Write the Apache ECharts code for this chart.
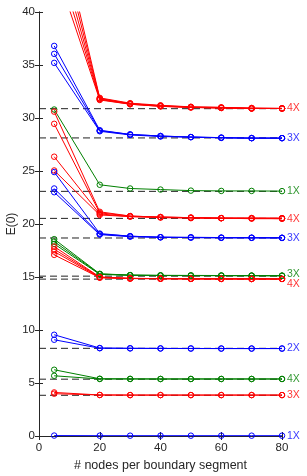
<!DOCTYPE html>
<html>
<head>
<meta charset="utf-8">
<script src="https://cdn.jsdelivr.net/npm/echarts@6/dist/echarts.min.js"></script>
<style>html,body{margin:0;padding:0;background:#fff;}#c{width:307px;height:476px;}</style>
</head>
<body>
<div id="c"></div>
<script>
// x positions (# nodes per boundary segment)
var xNodes = [5, 20, 30, 40, 50, 60, 70, 80];

// red group converging to ~30.9 (4X)
var redA1 = [44.5, 31.7, 31.3, 31.1, 31.0, 30.95, 30.9, 30.9];
var redA2 = [45.9, 31.75, 31.3, 31.1, 31.0, 30.95, 30.9, 30.9];
var redA3 = [47.3, 31.8, 31.35, 31.15, 31.0, 30.95, 30.9, 30.9];
var redA4 = [48.8, 31.85, 31.35, 31.15, 31.05, 31.0, 30.9, 30.9];
var redA5 = [50.2, 31.9, 31.4, 31.2, 31.05, 31.0, 30.95, 30.9];
// blue group converging to ~28.1 (3X)
var blueB1 = [36.8, 28.85, 28.45, 28.3, 28.2, 28.15, 28.1, 28.1];
var blueB2 = [36.05, 28.8, 28.45, 28.3, 28.2, 28.15, 28.1, 28.1];
var blueB3 = [35.2, 28.75, 28.4, 28.25, 28.2, 28.12, 28.1, 28.1];
// green converging to ~23.1 (1X)
var greenC1 = [30.8, 23.7, 23.35, 23.25, 23.15, 23.12, 23.12, 23.1];
// red group converging to ~20.5 (4X)
var redD1 = [30.6, 21.15, 20.75, 20.65, 20.6, 20.55, 20.55, 20.55];
var redD2 = [29.45, 21.05, 20.75, 20.65, 20.6, 20.55, 20.55, 20.55];
var redD3 = [26.35, 20.95, 20.7, 20.65, 20.6, 20.55, 20.55, 20.5];
var redD4 = [25.05, 20.85, 20.7, 20.6, 20.55, 20.55, 20.5, 20.5];
// blue group converging to ~18.7 (3X)
var blueE1 = [24.9, 19.1, 18.85, 18.75, 18.75, 18.72, 18.7, 18.7];
var blueE2 = [23.35, 19.05, 18.85, 18.75, 18.72, 18.7, 18.7, 18.7];
var blueE3 = [23.0, 19.0, 18.8, 18.75, 18.72, 18.7, 18.7, 18.68];
// green group converging to ~15.1 (3X)
var greenF1 = [18.57, 15.3, 15.18, 15.15, 15.15, 15.14, 15.13, 15.13];
var greenF2 = [18.34, 15.28, 15.17, 15.15, 15.14, 15.13, 15.13, 15.12];
var greenF3 = [18.12, 15.25, 15.16, 15.14, 15.13, 15.13, 15.12, 15.12];
// red group converging to ~14.8 (4X)
var redG1 = [17.87, 15.0, 14.87, 14.85, 14.83, 14.83, 14.82, 14.82];
var redG2 = [17.62, 14.98, 14.87, 14.85, 14.83, 14.83, 14.82, 14.82];
var redG3 = [17.4, 14.95, 14.86, 14.84, 14.83, 14.82, 14.82, 14.82];
var redG4 = [17.09, 14.93, 14.85, 14.84, 14.83, 14.82, 14.82, 14.81];
// blue converging to ~8.25 (2X)
var blueH1 = [9.55, 8.3, 8.27, 8.26, 8.26, 8.25, 8.25, 8.25];
var blueH2 = [9.08, 8.28, 8.27, 8.26, 8.25, 8.25, 8.25, 8.25];
// green converging to ~5.38 (4X)
var greenI1 = [6.25, 5.4, 5.39, 5.38, 5.38, 5.38, 5.38, 5.38];
var greenI2 = [5.68, 5.38, 5.38, 5.38, 5.38, 5.38, 5.38, 5.38];
// red converging to ~3.86 (3X)
var redJ1 = [4.11, 3.87, 3.86, 3.86, 3.86, 3.86, 3.86, 3.86];
var redJ2 = [3.99, 3.87, 3.86, 3.86, 3.86, 3.86, 3.86, 3.86];
// blue near 0 (1X)
var blueK1 = [0.04, 0.03, 0.03, 0.03, 0.03, 0.03, 0.03, 0.03];

// dashed reference levels
var refLevels = [30.88, 28.12, 23.08, 20.53, 18.68, 15.08, 14.8, 8.27, 5.36, 3.84];

// right-hand labels
var endLabelText = ['4X', '3X', '1X', '4X', '3X', '3X', '4X', '2X', '4X', '3X', '1X'];
var endLabelValue = [30.9, 28.1, 23.1, 20.5, 18.7, 15.13, 14.82, 8.25, 5.38, 3.86, 0.03];
var endLabelColor = ['red', 'blue', 'green', 'red', 'blue', 'green', 'red', 'blue', 'green', 'red', 'blue'];
var endLabelShift = [0, 0, 0, 0, 0, -2, 5, 0, 0, 0, 0];

var COLORS = { red: '#ff0000', blue: '#0000ff', green: '#008000' };

var curves = [
  ['red', redA1], ['red', redA2], ['red', redA3], ['red', redA4], ['red', redA5],
  ['blue', blueB1], ['blue', blueB2], ['blue', blueB3],
  ['green', greenC1],
  ['red', redD1], ['red', redD2], ['red', redD3], ['red', redD4],
  ['blue', blueE1], ['blue', blueE2], ['blue', blueE3],
  ['green', greenF1], ['green', greenF2], ['green', greenF3],
  ['red', redG1], ['red', redG2], ['red', redG3], ['red', redG4],
  ['blue', blueH1], ['blue', blueH2],
  ['green', greenI1], ['green', greenI2],
  ['red', redJ1], ['red', redJ2],
  ['blue', blueK1]
];

var series = [];
refLevels.forEach(function (v) {
  series.push({
    type: 'line', silent: true, symbol: 'none', z: 1,
    data: [[0, v], [80, v]],
    lineStyle: { color: '#222', width: 1, type: [7, 4] }
  });
});
curves.forEach(function (c) {
  var col = COLORS[c[0]];
  series.push({
    type: 'line', z: 2,
    data: xNodes.map(function (x, i) { return [x, c[1][i]]; }),
    symbol: 'circle', symbolSize: 5.5, showAllSymbol: true,
    itemStyle: { color: 'rgba(0,0,0,0)', borderColor: col, borderWidth: 1 },
    lineStyle: { color: col, width: 1 },
    clip: true
  });
});
series.push({
  type: 'scatter', symbolSize: 0, z: 5, clip: false, silent: true,
  data: endLabelText.map(function (t, i) {
    return {
      value: [80, endLabelValue[i]],
      label: {
        show: true, position: 'right', distance: 5,
        formatter: t, color: COLORS[endLabelColor[i]],
        fontSize: 10.5, fontFamily: 'Liberation Sans, Arial, sans-serif',
        offset: [0, endLabelShift[i]]
      }
    };
  })
});

var axisCol = '#262626';
var chart = echarts.init(document.getElementById('c'), null, { renderer: 'canvas' });
chart.setOption({
  animation: false,
  backgroundColor: '#fff',
  grid: { left: 39, right: 25, top: 12, bottom: 40, containLabel: false, outerBoundsMode: 'none' },
  xAxis: [
    {
      type: 'value', min: 0, max: 80, interval: 20, position: 'bottom',
      name: '# nodes per boundary segment', nameLocation: 'middle', nameGap: 19,
      nameTextStyle: { color: axisCol, fontSize: 12.5, fontFamily: 'Liberation Sans, Arial, sans-serif' },
      axisLine: { show: true, lineStyle: { color: axisCol, width: 1 } },
      axisTick: { show: true, inside: true, length: 4, lineStyle: { color: axisCol } },
      axisLabel: { color: axisCol, fontSize: 11.5, margin: 6, fontFamily: 'Liberation Sans, Arial, sans-serif' },
      splitLine: { show: false }
    },
    {
      type: 'value', min: 0, max: 80, interval: 20, position: 'top',
      axisLine: { show: true, lineStyle: { color: axisCol, width: 1 } },
      axisTick: { show: true, inside: true, length: 4, lineStyle: { color: axisCol } },
      axisLabel: { show: false }, splitLine: { show: false }
    }
  ],
  yAxis: [
    {
      type: 'value', min: 0, max: 40, interval: 5, position: 'left',
      name: 'E(0)', nameLocation: 'middle', nameGap: 21, nameRotate: 90, nameMoveOverlap: false,
      nameTextStyle: { color: axisCol, fontSize: 12, fontFamily: 'Liberation Sans, Arial, sans-serif' },
      axisLine: { show: true, lineStyle: { color: axisCol, width: 1 } },
      axisTick: { show: true, inside: true, length: 4, lineStyle: { color: axisCol } },
      axisLabel: { color: axisCol, fontSize: 11.5, margin: 4, fontFamily: 'Liberation Sans, Arial, sans-serif' },
      splitLine: { show: false }
    },
    {
      type: 'value', min: 0, max: 40, interval: 5, position: 'right',
      axisLine: { show: true, lineStyle: { color: axisCol, width: 1 } },
      axisTick: { show: true, inside: true, length: 4, lineStyle: { color: axisCol } },
      axisLabel: { show: false }, splitLine: { show: false }
    }
  ],
  series: series
});
</script>
</body>
</html>
